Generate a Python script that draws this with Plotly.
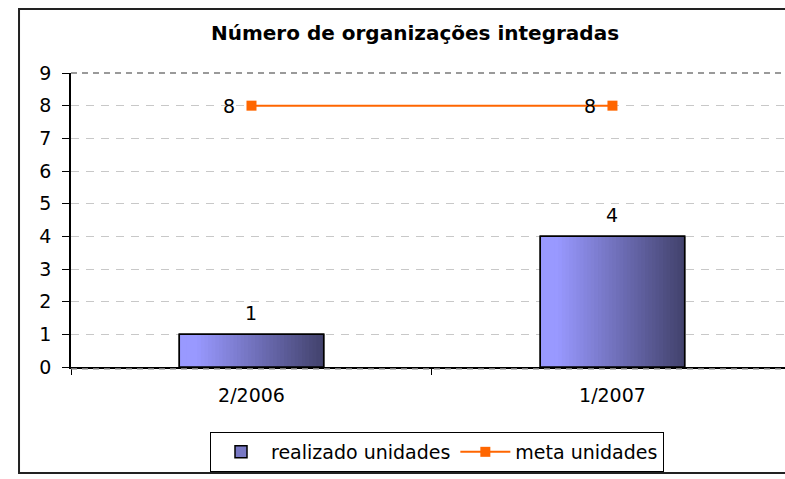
import plotly.graph_objects as go
import numpy as np

categories = ["2/2006", "1/2007"]
realizado = [1, 4]
meta = [8, 8]
y_ticks = list(range(0, 10))
title_text = "Número de organizações integradas"
bar_name = "realizado unidades"
line_name = "meta unidades"

FONT = "DejaVu Sans"
BAR_W = 0.4
N = 40
c0 = np.array([153, 153, 255])
c1 = np.array([66, 66, 108])

fig = go.Figure()

# base bar (legend entry)
fig.add_trace(go.Bar(
    x=categories, y=realizado, name=bar_name, width=BAR_W,
    marker=dict(color="#7878c4", line=dict(color="black", width=1.5)),
    hoverinfo="skip"))

# gradient slices
step = BAR_W / N
for i in range(N):
    t = (i + 0.5) / N
    tt = max(0.0, (t - 0.12) / 0.88)
    col = c0 + (c1 - c0) * tt
    w = step if i == N - 1 else step * 1.6
    fig.add_trace(go.Bar(
        x=categories, y=realizado, width=w, offset=-BAR_W / 2 + i * step,
        marker=dict(color="rgb(%d,%d,%d)" % tuple(col.astype(int)), line=dict(width=0)),
        showlegend=False, hoverinfo="skip"))

# outline
fig.add_trace(go.Bar(
    x=categories, y=realizado, width=BAR_W,
    marker=dict(color="rgba(0,0,0,0)", line=dict(color="black", width=1.5)),
    showlegend=False, hoverinfo="skip"))

# meta line
fig.add_trace(go.Scatter(
    x=categories, y=meta, name=line_name, mode="lines+markers",
    line=dict(color="#FF6600", width=2),
    marker=dict(symbol="square", size=10, color="#FF6600")))

annotations = []
for c, v in zip(categories, realizado):
    annotations.append(dict(x=c, y=v, text=str(v), showarrow=False, xref="x", yref="y",
                            yanchor="middle", yshift=21, font=dict(family=FONT, size=19, color="black")))
for c, v in zip(categories, meta):
    annotations.append(dict(x=c, y=v, text=str(v), showarrow=False, xref="x", yref="y",
                            xanchor="center", yanchor="middle", xshift=-22,
                            font=dict(family=FONT, size=19, color="black")))

shapes = [
    # outer chart border
    dict(type="rect", xref="paper", yref="paper", x0=-0.0728, x1=1.2, y0=-0.3605, y1=1.2177,
         line=dict(color="#222222", width=2), layer="above"),
    # plot area top border (dashed)
    dict(type="line", xref="paper", yref="paper", x0=0, x1=1.05, y0=1, y1=1,
         line=dict(color="#7a7a7a", width=1.5, dash="6px,5px"), layer="above"),
    # plot area bottom border (dashed, just under the axis line)
    dict(type="line", xref="paper", yref="paper", x0=0, x1=1.05, y0=-0.006, y1=-0.006,
         line=dict(color="#7a7a7a", width=1.5, dash="6px,5px"), layer="above"),
]

fig.update_layout(
    width=785, height=479,
    margin=dict(l=71, r=0, t=73, b=112),
    paper_bgcolor="white", plot_bgcolor="white",
    barmode="overlay",
    title=dict(text="<b>" + title_text + "</b>", x=415 / 785, xref="container", xanchor="center",
               y=1 - 33 / 479, yref="container", yanchor="middle",
               font=dict(family=FONT, size=20, color="black")),
    xaxis=dict(type="category", range=[-0.5, 1.478], showline=True, linecolor="black", linewidth=1.5,
               ticks="outside", tickson="boundaries", ticklen=6, tickcolor="black", tickwidth=1,
               showgrid=False, tickfont=dict(family=FONT, size=19, color="black"),
               ticklabelstandoff=10),
    yaxis=dict(range=[0, 9], tickvals=y_ticks, showgrid=True, gridcolor="#C8C8C8", gridwidth=1,
               griddash="8px,7px", showline=True, linecolor="black", linewidth=1.5,
               ticks="outside", ticklen=7, tickcolor="black", tickwidth=1, zeroline=False,
               tickfont=dict(family=FONT, size=19, color="black"), ticklabelstandoff=7),
    legend=dict(orientation="h", x=(437 - 71) / 714, xanchor="center", y=-0.221, yanchor="top",
                bordercolor="black", borderwidth=1, bgcolor="white", itemwidth=50,
                font=dict(family=FONT, size=19, color="black")),
    annotations=annotations,
    shapes=shapes,
    showlegend=True,
)

fig.write_html("out.html", config={"displayModeBar": False},
               post_script="document.body.style.margin='0px';document.body.style.overflow='hidden';")
